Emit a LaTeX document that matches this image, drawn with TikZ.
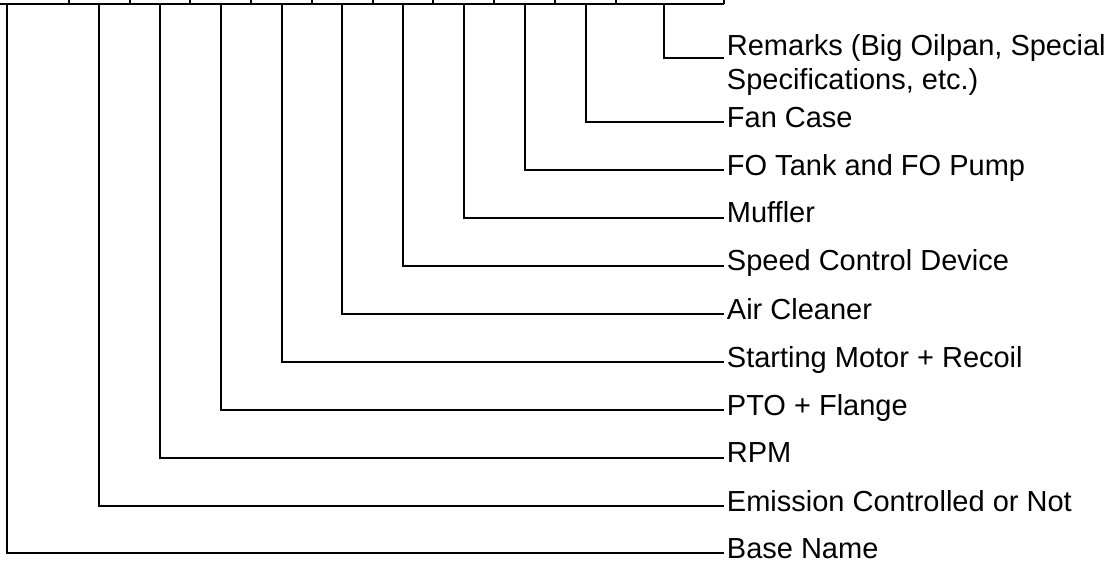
\documentclass[tikz,border=0pt]{standalone}
\usepackage{fontspec}
\setmainfont{Liberation Sans}
\begin{document}
\begin{tikzpicture}[x=1pt,y=-1pt,line width=1.8pt,
  lbl/.style={anchor=base west,inner sep=0pt,font=\fontsize{29}{34.5}\selectfont},
  wire/.style={line width=1.8pt}]
\useasboundingbox (0,0) rectangle (1113,562);
% top row of cells
\draw[wire] (-2,4) -- (724,4);
\foreach \x in {69,130,190,251,312,373,433,494,555,616,724}
  \draw[wire] (\x,-2) -- (\x,4);
% drop points and line ends
\foreach \n/\x/\y in {a/7/553,b/99/506,c/160/457.7,d/221/410,e/282/362,f/342/314,g/403/265.7,h/464/217.7,i/525/170,j/586/122,k/664/57.7}{
  \coordinate (t\n) at (\x,4);
  \coordinate (e\n) at (724,\y);
}
\foreach \n/\y/\t in {a/553/Base Name,b/506/Emission Controlled or Not,c/457.7/RPM,d/410/PTO + Flange,e/362/Starting Motor + Recoil,f/314/Air Cleaner,g/265.7/Speed Control Device,h/217.7/Muffler,i/170/FO Tank and FO Pump,j/122/Fan Case}
  \node[lbl] (l\n) at (726,\y+5) {\t};
\node[lbl,align=left] (lk) at (726,89.5) {Remarks (Big Oilpan, Special\\Specifications, etc.)};
\foreach \n in {a,b,c,d,e,f,g,h,i,j,k}
  \draw[wire] (t\n) |- (e\n);
\end{tikzpicture}
\end{document}
